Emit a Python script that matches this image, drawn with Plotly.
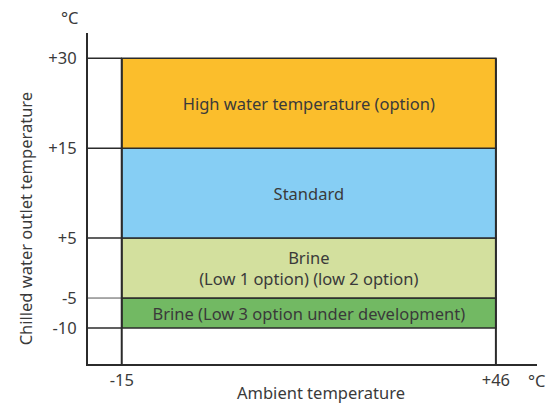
import numpy as np
import plotly.graph_objects as go

# ---- data ----
y_tick_values = [-10, -5, 5, 15, 30]
y_tick_labels = ["-10", "-5", "+5", "+15", "+30"]
# the reference uses an uneven (piecewise) vertical scale
y_tick_positions = [0, 5, 15, 30, 45]

x_min_ambient = -15
x_max_ambient = 46
x_tick_values = [-15, 46]
x_tick_labels = ["-15", "+46"]

band_names = [
    "Brine (Low 3 option under development)",
    "Brine<br>(Low 1 option) (low 2 option)",
    "Standard",
    "High water temperature (option)",
]
band_low = [-10, -5, 5, 15]
band_high = [-5, 5, 15, 30]
band_colors = ["#72B963", "#D3E09E", "#86CEF4", "#FBBE2C"]


def ymap(v):
    return float(np.interp(v, y_tick_values, y_tick_positions))


FONT = "Noto Sans"
TXT = "#3a3a3a"
LINE = "#2b2b2b"
FS = 16.5

fig = go.Figure()

center_x = (x_min_ambient + x_max_ambient) / 2
width_x = x_max_ambient - x_min_ambient
for name, lo, hi, col in zip(band_names, band_low, band_high, band_colors):
    b = ymap(lo)
    h = ymap(hi) - b
    fig.add_trace(go.Bar(
        x=[center_x], y=[h], base=[b], width=[width_x],
        marker=dict(color=col, line=dict(color=LINE, width=1.5)),
        text=[name], textposition="inside", insidetextanchor="middle",
        textfont=dict(family=FONT, size=FS, color=TXT),
        constraintext="none", hoverinfo="skip", showlegend=False,
    ))

xr = [-20.5, 52.7]
yr = [-6, 49.2]

shapes = []
# left stubs at tick levels
for v, p in zip(y_tick_values, y_tick_positions):
    shapes.append(dict(type="line", xref="x", yref="y", x0=xr[0], x1=x_min_ambient,
                       y0=p, y1=p, line=dict(color="#555" if v == -5 else LINE, width=1.5 if v != -5 else 1)))
# vertical boundaries
for xv in x_tick_values:
    shapes.append(dict(type="line", xref="x", yref="y", x0=xv, x1=xv,
                       y0=yr[0], y1=ymap(max(band_high)), line=dict(color=LINE, width=2)))

annotations = [
    dict(text="°C", xref="paper", yref="paper", x=0, xshift=-18, xanchor="center",
         y=1.0, yanchor="bottom", yshift=2,
         showarrow=False, font=dict(family=FONT, size=FS, color=TXT)),
    dict(text="°C", xref="paper", yref="paper", x=1.0, xanchor="center", y=0, yanchor="top", yshift=-3,
         showarrow=False, font=dict(family=FONT, size=FS, color=TXT)),
    dict(text="Chilled water outlet temperature", xref="paper", yref="paper",
         x=0, xshift=-63, xanchor="center", y=0.44, textangle=-90, showarrow=False,
         font=dict(family=FONT, size=FS, color=TXT)),
    dict(text="Ambient temperature", xref="paper", yref="paper",
         x=0.518, xanchor="center", y=0, yanchor="top", yshift=-15, showarrow=False,
         font=dict(family=FONT, size=FS, color=TXT)),
]

fig.update_layout(
    width=549, height=403,
    margin=dict(l=88, r=12, t=33, b=39),
    paper_bgcolor="white", plot_bgcolor="white",
    barmode="overlay",
    shapes=shapes, annotations=annotations,
    xaxis=dict(range=xr, showgrid=False, zeroline=False, showline=True,
               linecolor=LINE, linewidth=2, tickvals=x_tick_values, ticktext=x_tick_labels,
               ticks="", tickfont=dict(family=FONT, size=FS, color=TXT)),
    yaxis=dict(range=yr, showgrid=False, zeroline=False, showline=True,
               linecolor=LINE, linewidth=2, tickvals=y_tick_positions, ticktext=y_tick_labels,
               ticks="", ticklabelstandoff=6, tickfont=dict(family=FONT, size=FS, color=TXT)),
)

fig.write_html("out.html", config={"displayModeBar": False},
               post_script="document.body.style.margin='0';document.body.style.overflow='hidden';")
